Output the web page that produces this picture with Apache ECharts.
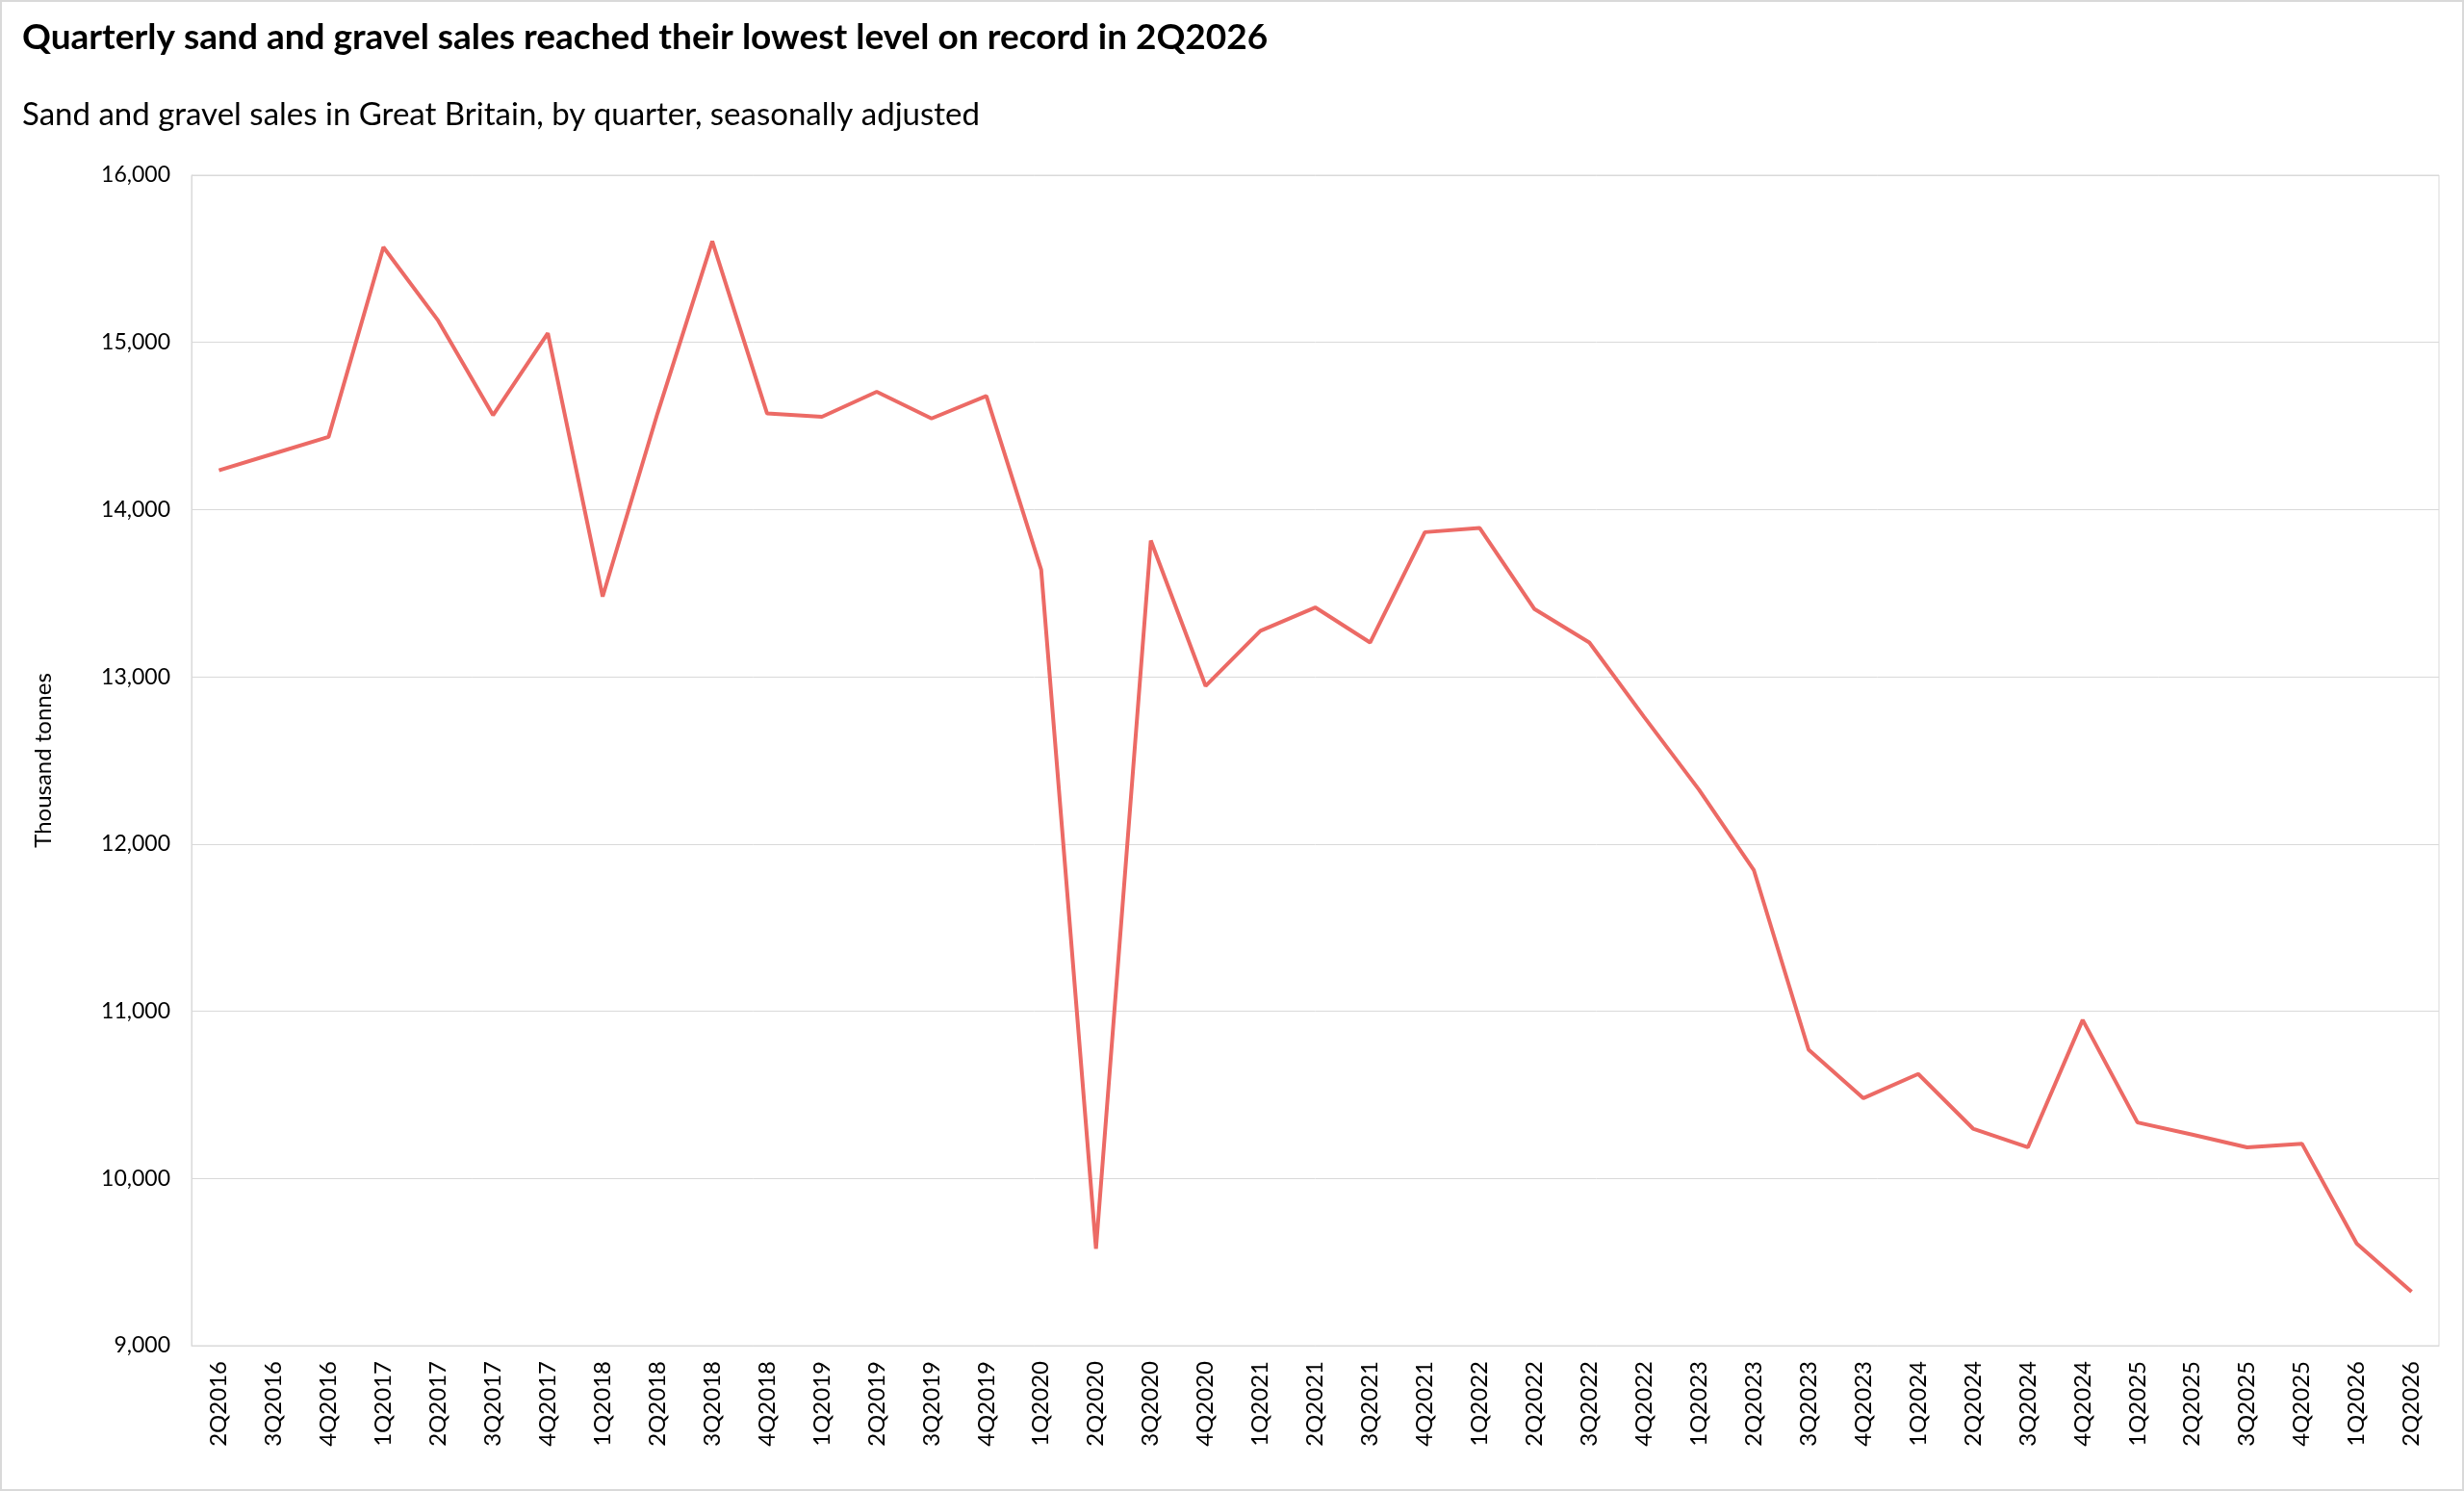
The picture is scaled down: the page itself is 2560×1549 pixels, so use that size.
<!DOCTYPE html>
<html>
<head>
<meta charset="utf-8">
<script src="https://cdn.jsdelivr.net/npm/echarts@6/dist/echarts.min.js"></script>
<style>
  html, body { margin: 0; padding: 0; background: #fff; }
  #main { width: 2560px; height: 1549px; box-sizing: border-box; border: 2px solid #d9d9d9; }
</style>
</head>
<body>
<div id="main"></div>
<script>
// quarters, 2Q2016 - 2Q2026
var quarters = [
    '2Q2016', '3Q2016', '4Q2016',
    '1Q2017', '2Q2017', '3Q2017', '4Q2017',
    '1Q2018', '2Q2018', '3Q2018', '4Q2018',
    '1Q2019', '2Q2019', '3Q2019', '4Q2019',
    '1Q2020', '2Q2020', '3Q2020', '4Q2020',
    '1Q2021', '2Q2021', '3Q2021', '4Q2021',
    '1Q2022', '2Q2022', '3Q2022', '4Q2022',
    '1Q2023', '2Q2023', '3Q2023', '4Q2023',
    '1Q2024', '2Q2024', '3Q2024', '4Q2024',
    '1Q2025', '2Q2025', '3Q2025', '4Q2025',
    '1Q2026', '2Q2026'
];

// sales, thousand tonnes (seasonally adjusted)
var sales = [
    14235, 14335, 14435,
    15570, 15130, 14565, 15055,
    13480, 14575, 15605, 14575,
    14555, 14705, 14545, 14680,
    13640, 9580, 13815, 12945,
    13275, 13415, 13205, 13865,
    13890, 13405, 13205, 12760,
    12325, 11845, 10770, 10480,
    10625, 10298, 10186, 10948,
    10335, 10262, 10186, 10208,
    9610, 9322
];

var yTicks = { min: 9000, max: 16000, step: 1000 };

var titleText = 'Quarterly sand and gravel sales reached their lowest level on record in 2Q2026';
var subText = 'Sand and gravel sales in Great Britain, by quarter, seasonally adjusted';

var font = 'Lato, "Open Sans", sans-serif';

var myChart = echarts.init(document.getElementById('main'));
var option = {
    backgroundColor: '#fff',
    animation: false,
    title: {
        text: titleText,
        subtext: subText,
        left: 16,
        top: 14,
        itemGap: 45,
        textStyle: { fontFamily: font, fontSize: 37, fontWeight: 'bold', color: '#000' },
        subtextStyle: { fontFamily: font, fontSize: 33, color: '#000' }
    },
    grid: {
        left: 197,
        right: 24,
        top: 180,
        bottom: 149,
        show: true,
        borderColor: '#d9d9d9',
        borderWidth: 1
    },
    xAxis: {
        type: 'category',
        data: quarters,
        boundaryGap: true,
        axisLine: { show: true, lineStyle: { color: '#d9d9d9' } },
        axisTick: { show: false },
        axisLabel: {
            rotate: 90,
            interval: 0,
            margin: 16,
            fontFamily: font,
            fontSize: 24,
            color: '#000'
        }
    },
    yAxis: {
        type: 'value',
        min: yTicks.min,
        max: yTicks.max,
        interval: yTicks.step,
        name: 'Thousand tonnes',
        nameLocation: 'middle',
        nameRotate: 90,
        nameGap: 142,
        nameTextStyle: { fontFamily: font, fontSize: 24, color: '#000' },
        axisLine: { show: true, lineStyle: { color: '#d9d9d9' } },
        axisTick: { show: false },
        splitLine: { lineStyle: { color: '#d9d9d9', width: 1 } },
        axisLabel: {
            margin: 22,
            fontFamily: font,
            fontSize: 23,
            color: '#000',
            formatter: function (v) { return v.toLocaleString('en-GB'); }
        }
    },
    series: [
        {
            name: 'Sand and gravel sales',
            type: 'line',
            data: sales,
            showSymbol: false,
            symbol: 'none',
            lineStyle: { color: '#ec6a65', width: 4 },
            itemStyle: { color: '#ec6a65' }
        }
    ]
};
myChart.setOption(option);
</script>
</body>
</html>
